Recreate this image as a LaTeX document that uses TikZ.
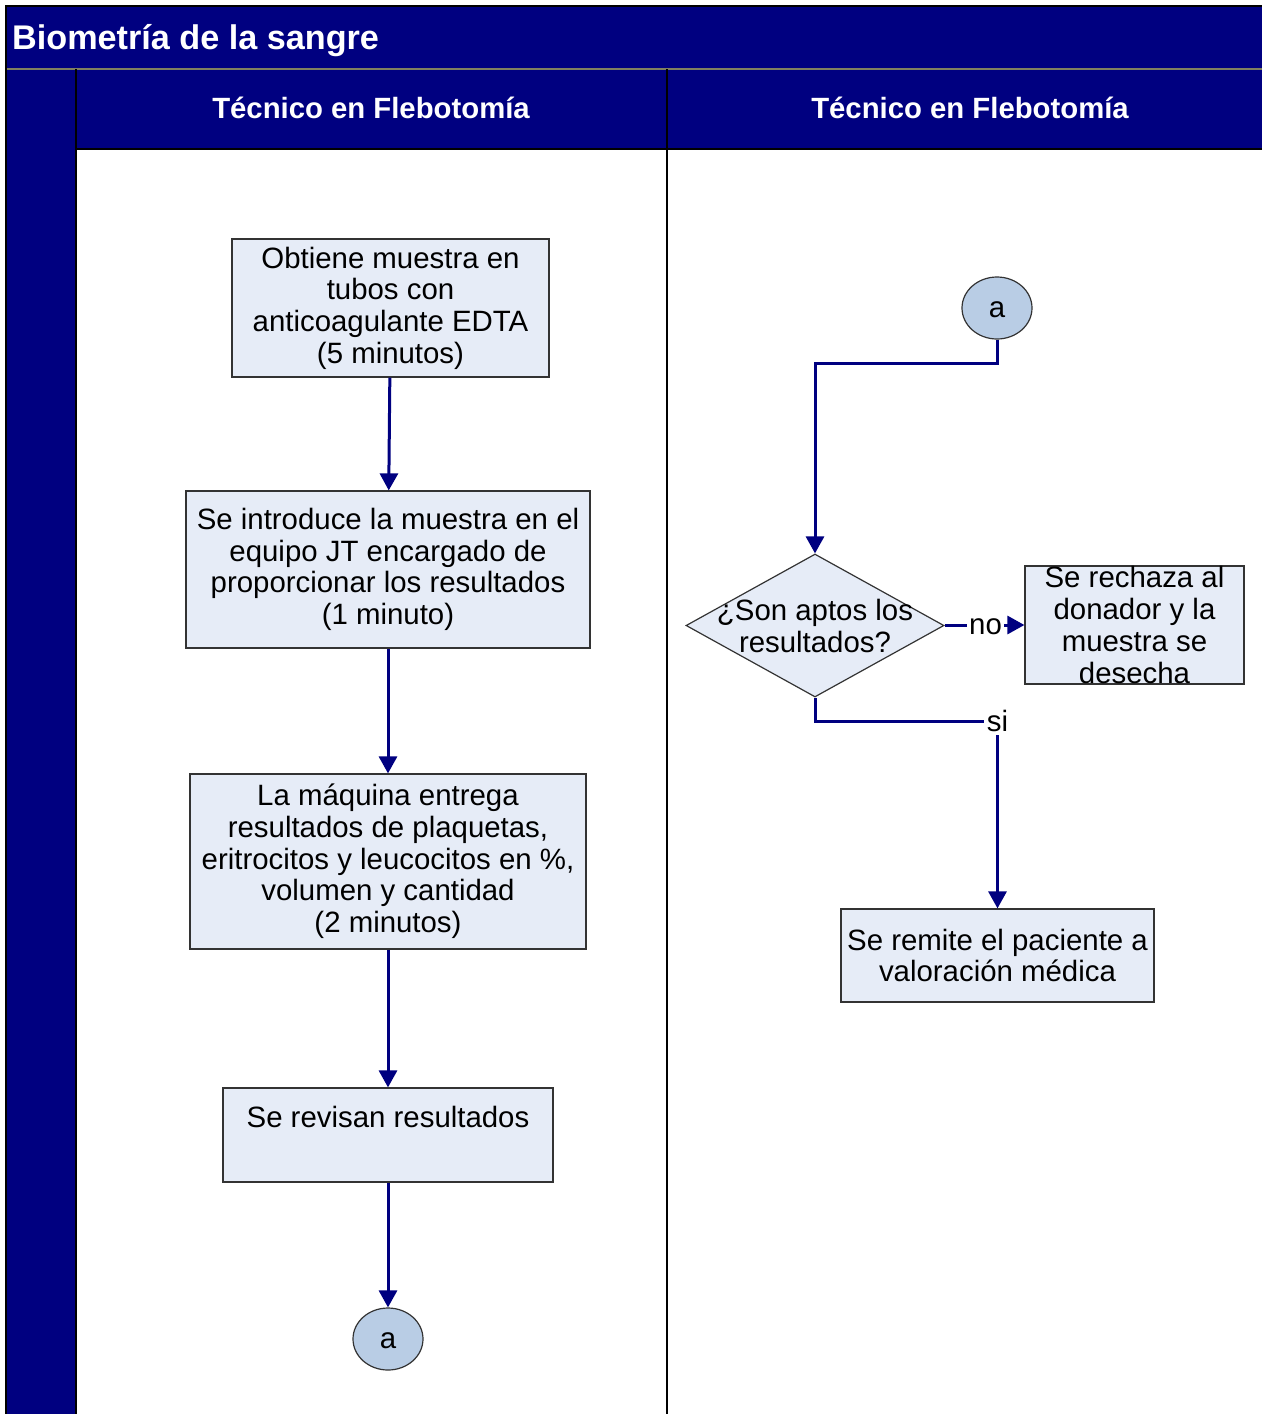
\documentclass[tikz,border=0pt]{standalone}
\usepackage{fontspec}
\setmainfont{Liberation Sans}
\usetikzlibrary{shapes.geometric,arrows.meta}

\definecolor{navy}{RGB}{0,0,128}
\definecolor{boxfill}{RGB}{230,236,247}
\definecolor{circfill}{RGB}{185,205,229}
\definecolor{titlerule}{RGB}{128,128,96}

\begin{document}
\begin{tikzpicture}[x=1pt,y=-1pt,
  body/.style={font=\fontsize{29.4}{31.7}\selectfont},
  titletext/.style={font=\fontsize{34.2}{38}\selectfont\bfseries, text=white, inner sep=0pt},
  lanetext/.style={font=\fontsize{29.3}{32}\selectfont\bfseries, text=white, inner sep=0pt},
  procbox/.style={body, draw=black!80, line width=1.2pt, fill=boxfill, align=center, inner sep=0pt},
  decisionbox/.style={shape=diamond, draw=black!80, line width=1.2pt, fill=boxfill, inner sep=0pt,
    minimum width=258pt, minimum height=143pt},
  linkcirc/.style={body, shape=ellipse, draw=black!80, line width=1.2pt, fill=circfill, inner sep=0pt,
    minimum width=70pt, minimum height=62pt, text height=19pt, text depth=0pt},
  branchlbl/.style={body, inner sep=2pt},
  plainline/.style={draw=navy, line width=3pt},
  connector/.style={plainline, -{Triangle[width=18pt,length=17pt]}}
]
\useasboundingbox (0,0) rectangle (1262,1414);
\fill[white] (0,0) rectangle (1262,1414);

% pool frame: title bar, left strip and lane headers
\fill[navy] (6,6) rectangle (1262,69);
\fill[navy] (6,69) rectangle (76,1414);
\fill[navy] (76,69) rectangle (1262,149);
\draw[titlerule, line width=1.5pt] (6,69) -- (1262,69);
\draw[black, line width=1.5pt] (76,69) -- (76,1414);
\draw[black, line width=1.5pt] (76,149) -- (1262,149);
\draw[black, line width=2pt] (667,69) -- (667,1414);
\draw[black, line width=1.5pt] (6,1414) -- (6,6) -- (1262,6);

\node[titletext, anchor=base west] (title) at (12,49) {Biometría de la sangre};
\node[lanetext, anchor=base] (laneL) at (371,118) {Técnico en Flebotomía};
\node[lanetext, anchor=base] (laneR) at (970,118) {Técnico en Flebotomía};

% left lane
\node[procbox, minimum width=317pt, minimum height=138pt] (obtain) at (390.5,308)
  {Obtiene muestra en\\tubos con\\anticoagulante EDTA\\(5 minutos)};
\node[procbox, minimum width=404pt, minimum height=157pt] (introduce) at (388,569.5)
  {Se introduce la muestra en el\\equipo JT encargado de\\proporcionar los resultados\\(1 minuto)};
\node[procbox, minimum width=396pt, minimum height=175pt] (machine) at (388,861.5)
  {La máquina entrega\\resultados de plaquetas,\\eritrocitos y leucocitos en \%,\\volumen y cantidad\\(2 minutos)};
\node[procbox, minimum width=330pt, minimum height=94pt, text depth=36pt] (review) at (388,1135)
  {Se revisan resultados};
\node[linkcirc] (linkA) at (388,1339) {a};

% right lane
\node[linkcirc] (linkB) at (997,308) {a};
\node[decisionbox] (decision) at (815,625.5) {};
\node[body, align=center, inner sep=0pt] (question) at (815,626) {¿Son aptos los\\resultados?};
\node[procbox, minimum width=219pt, minimum height=118pt] (reject) at (1134.5,625)
  {Se rechaza al\\donador y la\\muestra se\\desecha};
\node[procbox, minimum width=313pt, minimum height=93pt] (remit) at (997.5,955.5)
  {Se remite el paciente a\\valoración médica};
\node[branchlbl] (nolbl) at (985.5,627) {no};
\node[branchlbl, inner sep=3pt] (silbl) at (997.5,721) {si};

% connectors
\draw[connector] (obtain) -- (introduce);
\draw[connector] (introduce) -- (machine);
\draw[connector] (machine) -- (review);
\draw[connector] (review) -- (linkA);
\draw[connector] (linkB.south) -- ++(0,24) -| (decision.north);
\draw[plainline] (decision.east) -- (decision.east -| nolbl.west);
\draw[connector] (nolbl.east |- reject.west) -- (reject.west);
\draw[plainline] (decision.south) |- (silbl.west);
\draw[connector] (silbl.south) -- (remit.north);
\end{tikzpicture}
\end{document}
